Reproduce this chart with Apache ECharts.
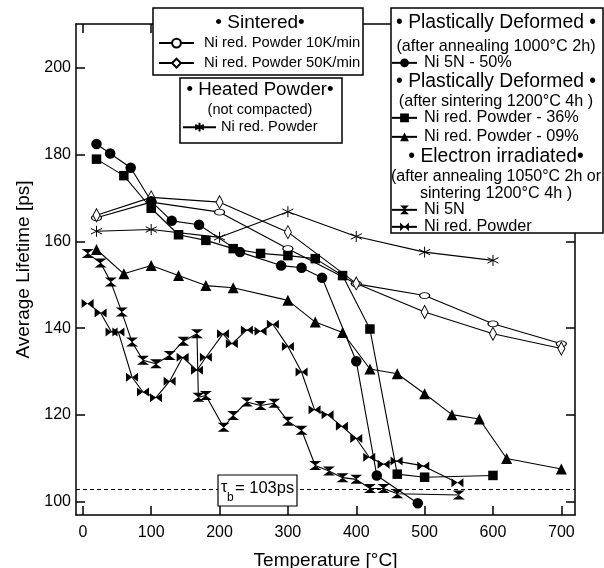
<!DOCTYPE html>
<html>
<head>
<meta charset="utf-8">
<script src="https://cdn.jsdelivr.net/npm/echarts@6/dist/echarts.min.js"></script>
<style>
  html, body { margin: 0; padding: 0; background: #fff; }
  #chart { width: 604px; height: 568px; }
</style>
</head>
<body>
<div id="chart"></div>
<script>
// values: temperature [°C] / average lifetime [ps]
var tempSint10 = [20, 100, 200, 300, 400, 500, 600, 700];
var lifeSint10 = [165.4, 169, 166.7, 158.3, 150.2, 147.5, 141, 136.4];
var tempSint50 = [20, 100, 200, 300, 400, 500, 600, 700];
var lifeSint50 = [166, 170.1, 169, 162.1, 150.3, 143.7, 138.7, 135.3];
var tempHeated = [20, 100, 200, 300, 400, 500, 600];
var lifeHeated = [162.3, 162.7, 160.9, 166.8, 161.1, 157.5, 155.6];
var tempDef50 = [20, 40, 70, 100, 130, 170, 230, 290, 320, 350, 400, 430, 490];
var lifeDef50 = [182.4, 180.2, 176.9, 169.2, 164.7, 163.8, 157.5, 154.4, 153.9, 151.6, 132.4, 106.1, 99.7];
var tempDef36 = [20, 60, 100, 140, 180, 220, 260, 300, 340, 380, 420, 460, 500, 600];
var lifeDef36 = [178.9, 175.1, 167.6, 161.5, 160.2, 158.3, 157.2, 156.7, 156, 152.1, 139.8, 106.4, 105.7, 106.1];
var tempDef09 = [20, 60, 100, 140, 180, 220, 300, 340, 380, 420, 460, 500, 540, 580, 620, 700];
var lifeDef09 = [158.1, 152.5, 154.4, 152.1, 149.8, 149.3, 146.4, 141.4, 139, 130.6, 129.5, 124.9, 120.1, 119.1, 110, 107.6];
var tempIrr5N = [7, 26, 41, 57, 72, 88, 107, 127, 147, 167, 169, 180, 206, 220, 240, 260, 280, 300, 320, 340, 360, 380, 400, 420, 440, 460, 550];
var lifeIrr5N = [157.2, 155, 150.6, 143.7, 136.8, 132.6, 131.8, 133.7, 137, 138.7, 124.1, 124.5, 117.2, 119.9, 123, 122.2, 122.7, 118.6, 116.5, 108.4, 107.1, 105.6, 105.2, 103.1, 103.1, 101.9, 101.6];
var tempIrrPow = [7, 26, 42, 52, 72, 88, 107, 127, 146, 167, 180, 205, 218, 240, 260, 278, 300, 320, 339, 358, 379, 400, 419, 440, 459, 498, 548];
var lifeIrrPow = [145.7, 143.5, 139.1, 139.1, 128.7, 125.3, 124, 127.8, 133.3, 130.3, 133.3, 138.7, 136.4, 139.6, 139.3, 140.9, 135.8, 129.9, 121.2, 120.1, 117.4, 114.6, 110.3, 108.7, 109.4, 108.3, 104.4];

var xTicks = [0, 100, 200, 300, 400, 500, 600, 700];
var yTicks = [100, 120, 140, 160, 180, 200];
var tauB = 103;

var FONT = 'Liberation Sans';
var HOURGLASS = 'path://M0,0L10,0L5,5L10,10L0,10L5,5Z';
var BOWTIE = 'path://M0,0L5,5L0,10ZM10,0L5,5L10,10Z';
var ASTERISK = 'path://M5,0L5,10M0.7,2.5L9.3,7.5M0.7,7.5L9.3,2.5';

function pairs(xs, ys) {
  return xs.map(function(x, i) { return [x, ys[i]]; });
}

// legend text (two series share the name "Ni red. Powder")
var labelOf = {
  s10: 'Ni red. Powder 10K/min',
  s50: 'Ni red. Powder 50K/min',
  heat: 'Ni red. Powder',
  d50: 'Ni 5N - 50%',
  d36: 'Ni red. Powder - 36%',
  d09: 'Ni red. Powder - 09%',
  i5n: 'Ni 5N',
  ipow: 'Ni red. Powder'
};

function mkSeries(name, xs, ys, symbol, size, open, stroke) {
  return {
    name: name,
    type: 'line',
    data: pairs(xs, ys),
    symbol: symbol,
    symbolSize: size,
    showAllSymbol: true,
    animation: false,
    lineStyle: { color: '#000', width: 1.1 },
    itemStyle: open
      ? { color: '#fff', borderColor: '#000', borderWidth: stroke || 1 }
      : { color: '#000', borderColor: '#000', borderWidth: stroke || 0 },
    emphasis: { disabled: true }
  };
}

var series = [
  mkSeries('s10', tempSint10, lifeSint10, 'circle', [10, 6], true),
  mkSeries('s50', tempSint50, lifeSint50, 'diamond', [7, 13], true),
  mkSeries('heat', tempHeated, lifeHeated, ASTERISK, 11, true, 1),
  mkSeries('d50', tempDef50, lifeDef50, 'circle', 10.5),
  mkSeries('d36', tempDef36, lifeDef36, 'rect', 9.5),
  mkSeries('d09', tempDef09, lifeDef09, 'triangle', 11),
  mkSeries('i5n', tempIrr5N, lifeIrr5N, HOURGLASS, [12, 9]),
  mkSeries('ipow', tempIrrPow, lifeIrrPow, BOWTIE, [12, 9])
];
series[series.length - 1].markLine = {
  silent: true,
  symbol: 'none',
  animation: false,
  label: { show: false },
  lineStyle: { color: '#000', width: 1, type: [4, 3] },
  data: [{ yAxis: tauB }]
};

function legendAt(name, left, centerY, w, fs, gap) {
  return {
    data: [name], left: left, top: centerY - fs / 2, orient: 'vertical',
    padding: 0, itemWidth: w, itemHeight: 11, itemGap: 0, z: 6,
    selectedMode: false,
    formatter: function(n) { return labelOf[n]; },
    textStyle: { fontFamily: FONT, fontSize: fs, color: '#000', padding: [0, 0, 0, gap] }
  };
}

function txt(s, x, y, fs) {
  return {
    type: 'text', z: 5, silent: true,
    style: { text: s, x: x, y: y, fill: '#000', font: fs + 'px "' + FONT + '"', align: 'center', verticalAlign: 'middle' }
  };
}
function box(x, y, w, h) {
  return {
    type: 'rect', z: 3, silent: true,
    shape: { x: x, y: y, width: w, height: h },
    style: { fill: '#fff', stroke: '#000', lineWidth: 1.5 }
  };
}

var axisBase = {
  type: 'value',
  axisLine: { show: true, onZero: false, lineStyle: { color: '#000', width: 1.5 } },
  splitLine: { show: false }
};

var chart = echarts.init(document.getElementById('chart'), null, { renderer: 'canvas' });
chart.setOption({
  animation: false,
  backgroundColor: '#fff',
  grid: { left: 76, right: 29, top: 24, bottom: 53, containLabel: false, outerBoundsMode: 'none' },
  xAxis: [
    Object.assign({}, axisBase, {
      min: -10, max: 720, position: 'bottom',
      axisTick: { inside: true, length: 9, customValues: xTicks, lineStyle: { color: '#000', width: 1.5 } },
      axisLabel: { customValues: xTicks, color: '#000', fontSize: 16, fontFamily: FONT, margin: 10 },
      name: 'Temperature [°C]', nameLocation: 'middle', nameGap: 36,
      nameTextStyle: { color: '#000', fontSize: 19, fontFamily: FONT }
    }),
    Object.assign({}, axisBase, {
      min: -10, max: 720, position: 'top',
      axisTick: { inside: true, length: 9, customValues: xTicks, lineStyle: { color: '#000', width: 1.5 } },
      axisLabel: { show: false }
    })
  ],
  yAxis: [
    Object.assign({}, axisBase, {
      min: 97, max: 210, position: 'left',
      axisTick: { inside: true, length: 9, customValues: yTicks, lineStyle: { color: '#000', width: 1.5 } },
      axisLabel: { customValues: yTicks, color: '#000', fontSize: 16, fontFamily: FONT, margin: 5 },
      name: 'Average Lifetime [ps]', nameLocation: 'middle', nameGap: 43, nameRotate: 90,
      nameTextStyle: { color: '#000', fontSize: 19, fontFamily: FONT }
    }),
    Object.assign({}, axisBase, {
      min: 97, max: 210, position: 'right',
      axisTick: { inside: true, length: 9, customValues: yTicks, lineStyle: { color: '#000', width: 1.5 } },
      axisLabel: { show: false }
    })
  ],
  legend: [
    legendAt('s10', 158, 43, 35, 14.8, 5),
    legendAt('s50', 158, 63, 35, 14.8, 5),
    legendAt('heat', 182, 127, 33, 14.6, 0),
    legendAt('d50', 391, 63, 25, 16.3, 2),
    legendAt('d36', 391, 118, 25, 16.3, 2),
    legendAt('d09', 391, 137, 25, 16.3, 2),
    legendAt('i5n', 391, 210, 25, 16.3, 2),
    legendAt('ipow', 391, 227, 25, 16.3, 2)
  ],
  graphic: [
    box(153, 8, 210, 67),
    txt('• Sintered•', 260, 23, 19),
    box(180, 78, 162, 65),
    txt('• Heated Powder•', 260, 90, 18.7),
    txt('(not compacted)', 260, 110, 14.5),
    box(391, 8, 212, 225),
    txt('• Plastically Deformed •', 496, 23, 19.3),
    txt('(after annealing 1000°C 2h)', 496, 47, 16.2),
    txt('• Plastically Deformed •', 496, 82, 19.3),
    txt('(after sintering 1200°C 4h )', 496, 102, 16.2),
    txt('• Electron irradiated•', 496, 157, 19.3),
    txt('(after annealing 1050°C 2h or', 496, 177, 16),
    txt('sintering 1200°C 4h )', 496, 194, 16.2),
    {
      type: 'rect', z: 10, silent: true,
      shape: { x: 218, y: 475, width: 79, height: 31 },
      style: { fill: '#fff', stroke: '#000', lineWidth: 1.2 }
    },
    { type: 'text', z: 11, silent: true, style: { text: 'τ', x: 221, y: 488, fill: '#000', font: '16px "' + FONT + '"', align: 'left', verticalAlign: 'middle' } },
    { type: 'text', z: 11, silent: true, style: { text: 'b', x: 227, y: 498, fill: '#000', font: '12px "' + FONT + '"', align: 'left', verticalAlign: 'middle' } },
    { type: 'text', z: 11, silent: true, style: { text: '= 103ps', x: 235, y: 488, fill: '#000', font: '16.5px "' + FONT + '"', align: 'left', verticalAlign: 'middle' } }
  ],
  series: series
});
</script>
</body>
</html>
